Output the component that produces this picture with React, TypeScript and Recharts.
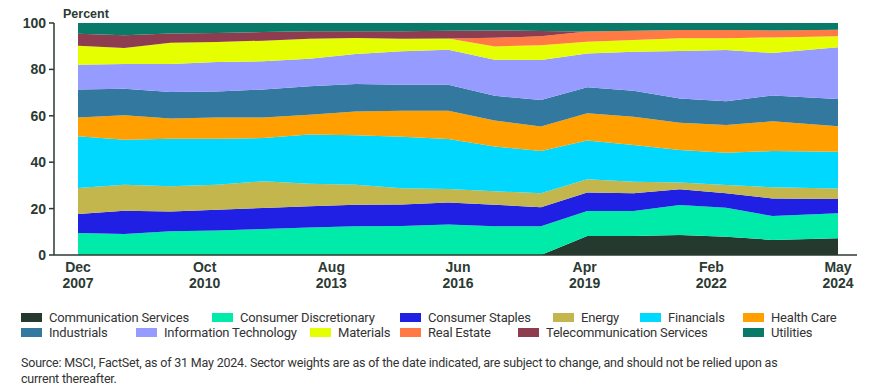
import { AreaChart, Area, XAxis, YAxis } from "recharts";

// Observation dates (year-end snapshots, plus the latest)
const DATES = [
  "Dec 2007", "Dec 2008", "Dec 2009", "Dec 2010", "Dec 2011", "Dec 2012",
  "Dec 2013", "Dec 2014", "Dec 2015", "Dec 2016", "Dec 2017", "Dec 2018",
  "Dec 2019", "Dec 2020", "Dec 2021", "Dec 2022", "May 2024",
];

const COMMUNICATION = [0, 0, 0, 0, 0, 0, 0, 0, 0, 0, 0, 8.2, 8.2, 8.6, 7.9, 6.5, 7.2];
const DISCRETIONARY = [9.5, 9.1, 10.2, 10.6, 11.2, 11.9, 12.4, 12.5, 13.1, 12.4, 12.4, 10.8, 10.8, 13.0, 12.5, 10.3, 10.8];
const STAPLES = [8.2, 10.0, 8.6, 8.9, 9.1, 9.1, 9.3, 9.3, 9.5, 9.3, 8.2, 7.9, 7.6, 6.7, 6.2, 7.6, 6.1];
const ENERGY = [11.2, 11.2, 10.8, 10.8, 11.5, 9.7, 8.6, 7.0, 5.8, 5.8, 6.0, 5.7, 5.0, 2.9, 3.6, 4.8, 4.6];
const FINANCIALS = [22.3, 19.4, 20.5, 19.8, 18.6, 21.2, 21.3, 22.2, 21.6, 19.3, 18.2, 16.7, 15.8, 14.1, 13.9, 15.6, 15.8];
const HEALTH_CARE = [8.1, 10.5, 8.7, 9.2, 8.9, 8.6, 10.3, 11.2, 12.2, 11.2, 10.6, 11.8, 12.2, 11.7, 11.9, 12.8, 11.0];
const INDUSTRIALS = [12.0, 11.5, 11.5, 11.2, 12.0, 12.2, 11.8, 11.2, 11.2, 10.6, 11.4, 11.2, 11.2, 10.5, 10.3, 11.2, 11.7];
const INFO_TECH = [10.7, 10.6, 12.0, 12.7, 12.2, 11.9, 12.9, 14.4, 15.1, 15.6, 17.2, 14.6, 16.8, 20.4, 22.1, 18.3, 22.3];
const MATERIALS = [8.2, 6.9, 9.2, 8.6, 8.9, 8.6, 6.9, 5.4, 4.8, 5.7, 6.4, 5.0, 5.1, 5.5, 5.0, 6.7, 4.8];
const REAL_ESTATE = [0, 0, 0, 0, 0, 0, 0, 0, 0, 3.7, 3.9, 4.4, 4.0, 3.6, 3.6, 3.0, 2.8];
const TELECOM = [5.2, 5.5, 4.0, 3.9, 3.7, 3.2, 2.9, 3.2, 3.4, 3.2, 2.3, 0, 0, 0, 0, 0, 0];
const UTILITIES = [4.6, 5.3, 4.5, 4.3, 3.9, 3.6, 3.6, 3.6, 3.3, 3.2, 3.4, 3.7, 3.3, 3.0, 3.0, 3.2, 2.9];

const X_TICK_LABELS = ["Dec 2007", "Oct 2010", "Aug 2013", "Jun 2016", "Apr 2019", "Feb 2022", "May 2024"];
const Y_TICKS = [0, 20, 40, 60, 80, 100];

const SERIES = [
  { key: "comm", name: "Communication Services", color: "#26392e", values: COMMUNICATION },
  { key: "disc", name: "Consumer Discretionary", color: "#00eaaa", values: DISCRETIONARY },
  { key: "stap", name: "Consumer Staples", color: "#2020e4", values: STAPLES },
  { key: "ener", name: "Energy", color: "#c3b64c", values: ENERGY },
  { key: "fin", name: "Financials", color: "#00d8ff", values: FINANCIALS },
  { key: "hc", name: "Health Care", color: "#ff9f00", values: HEALTH_CARE },
  { key: "ind", name: "Industrials", color: "#33799f", values: INDUSTRIALS },
  { key: "it", name: "Information Technology", color: "#969bff", values: INFO_TECH },
  { key: "mat", name: "Materials", color: "#e6ff00", values: MATERIALS },
  { key: "re", name: "Real Estate", color: "#ff7a45", values: REAL_ESTATE },
  { key: "tel", name: "Telecommunication Services", color: "#8e3d50", values: TELECOM },
  { key: "util", name: "Utilities", color: "#0a7a68", values: UTILITIES },
];

const MONTHS = ["Jan", "Feb", "Mar", "Apr", "May", "Jun", "Jul", "Aug", "Sep", "Oct", "Nov", "Dec"];
const monthIndex = (label: string) => {
  const [m, y] = label.split(" ");
  return Number(y) * 12 + MONTHS.indexOf(m);
};
const START = monthIndex(DATES[0]);
const SPAN = monthIndex(DATES[DATES.length - 1]) - START;

const data = DATES.map((d, i) => {
  const row: Record<string, number | string> = { date: d, t: monthIndex(d) - START };
  SERIES.forEach((s) => (row[s.key] = s.values[i]));
  return row;
});

// labels are spread evenly along the axis, as in the original
const X_TICKS = X_TICK_LABELS.map((_, i) => (SPAN * i) / (X_TICK_LABELS.length - 1));

const INK = "#2b3a33";
const FONT = "'Liberation Sans', Arial, sans-serif";

const XTick = (props: any) => {
  const { x, y, payload } = props;
  const idx = X_TICKS.findIndex((v) => Math.abs(v - payload.value) < 0.01);
  const [l1, l2] = (X_TICK_LABELS[idx] || "").split(" ");
  return (
    <text x={x} y={y} textAnchor="middle" fill={INK} fontSize={14} fontWeight={700} fontFamily={FONT}>
      <tspan x={x} dy={9}>{l1}</tspan>
      <tspan x={x} dy={16}>{l2}</tspan>
    </text>
  );
};

// legend rows, left edge of each item in px
const LEGEND_ROWS = [
  { top: 310, items: [0, 1, 2, 3, 4, 5], lefts: [21, 212, 400, 553, 640, 743] },
  { top: 325, items: [6, 7, 8, 9, 10, 11], lefts: [21, 136, 310, 400, 518, 743] },
];

export default function App() {
  return (
    <div
      style={{
        position: "absolute",
        left: 0,
        top: 0,
        width: 873,
        height: 389,
        background: "#fff",
        fontFamily: "Roboto, sans-serif",
        overflow: "hidden",
      }}
    >
      <div
        style={{
          position: "absolute",
          left: 63,
          top: 7,
          fontSize: 12.5,
          fontWeight: 700,
          color: INK,
          fontFamily: FONT,
        }}
      >
        Percent
      </div>

      <AreaChart
        width={873}
        height={300}
        data={data}
        margin={{ top: 23, right: 16, bottom: 5, left: 0 }}
      >
        <XAxis
          dataKey="t"
          type="number"
          domain={[0, SPAN]}
          ticks={X_TICKS}
          interval={0}
          padding={{ left: 24, right: 19 }}
          axisLine={{ stroke: INK, strokeWidth: 1.5 }}
          tickLine={false}
          tick={<XTick />}
          height={40}
        />
        <YAxis
          domain={[0, 100]}
          ticks={Y_TICKS}
          width={54}
          axisLine={{ stroke: INK, strokeWidth: 1.5 }}
          tickLine={{ stroke: INK, strokeWidth: 1.5 }}
          tickSize={5}
          tickMargin={3}
          tick={{ fill: INK, fontSize: 14, fontWeight: 700, fontFamily: FONT }}
        />
        {SERIES.map((s) => (
          <Area
            key={s.key}
            dataKey={s.key}
            name={s.name}
            stackId="1"
            type="linear"
            stroke="none"
            fill={s.color}
            fillOpacity={1}
            isAnimationActive={false}
          />
        ))}
      </AreaChart>

      {LEGEND_ROWS.map((row, r) =>
        row.items.map((si, j) => {
          const s = SERIES[si];
          return (
            <div
              key={`${r}-${j}`}
              style={{
                position: "absolute",
                left: row.lefts[j],
                top: row.top,
                display: "flex",
                alignItems: "center",
                fontSize: 13,
                color: "#333",
                whiteSpace: "nowrap",
                letterSpacing: -0.2,
              }}
            >
              <span style={{ width: 21, height: 9, background: s.color, marginRight: 7, display: "inline-block" }} />
              {s.name}
            </div>
          );
        })
      )}

      <div
        style={{
          position: "absolute",
          left: 21,
          top: 355,
          fontSize: 12.5,
          lineHeight: "16px",
          color: "#333",
          letterSpacing: -0.2,
        }}
      >
        <div>
          Source: MSCI, FactSet, as of 31 May 2024. Sector weights are as of the date indicated, are subject to change, and should not be relied upon as
        </div>
        <div>current thereafter.</div>
      </div>
    </div>
  );
}
